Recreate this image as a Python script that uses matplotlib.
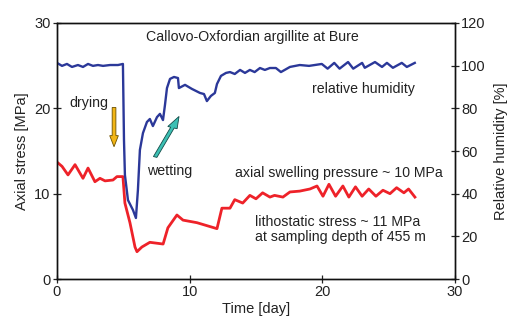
import matplotlib
matplotlib.use("Agg")
import matplotlib.pyplot as plt
from matplotlib.patches import FancyArrow

plt.rcParams['font.family'] = ['Liberation Sans', 'DejaVu Sans']

# relative humidity [%] vs time [day]
rh_t = [0, 0.38, 0.75, 1.13, 1.58, 1.96, 2.34, 2.71, 3.09, 3.47, 4.0, 4.6, 4.97,
        5.05, 5.12, 5.35, 5.73, 5.95, 6.1, 6.25, 6.48, 6.78, 7.0, 7.23, 7.54, 7.76,
        7.99, 8.14, 8.29, 8.52, 8.82, 9.12, 9.19, 9.65, 10.17, 10.78, 11.08, 11.3,
        11.6, 11.9, 12.06, 12.36, 12.74, 13.04, 13.4, 13.8, 14.17, 14.54, 14.9,
        15.3, 15.67, 16.05, 16.5, 16.88, 17.56, 18.3, 19.0, 19.96, 20.4, 20.9,
        21.3, 21.94, 22.33, 23.0, 23.2, 23.97, 24.5, 24.87, 25.32, 25.99, 26.37, 26.97]
rh_v = [101.3, 99.9, 100.8, 99.4, 100.3, 99.4, 100.8, 99.9, 100.3, 99.9, 100.3, 100.3, 100.8,
        65.2, 48.8, 37.0, 32.3, 28.6, 41.7, 60.5, 68.4, 73.6, 75.0, 71.7, 75.9, 77.4,
        74.5, 81.6, 89.5, 93.8, 94.7, 94.2, 89.5, 91.0, 89.1, 87.2, 86.7, 83.4,
        85.8, 87.2, 91.4, 95.2, 96.6, 97.0, 96.1, 98.0, 96.6, 98.0, 97.0,
        98.9, 98.0, 98.9, 98.9, 97.0, 99.4, 100.3, 99.9, 100.8, 98.6, 101.3,
        98.6, 101.7, 98.6, 101.3, 99.0, 101.7, 99.4, 101.3, 99.0, 101.3, 99.4, 101.3]

# axial swelling pressure [MPa] vs time [day]
p_t = [0, 0.38, 0.83, 1.36, 1.96, 2.34, 2.86, 3.24, 3.62, 4.22, 4.52, 4.97,
       5.12, 5.5, 5.88, 6.03, 6.4, 7.0, 7.5, 8.0, 8.36, 9.04, 9.5, 10.55, 12.06,
       12.43, 13.04, 13.4, 14.0, 14.54, 15.0, 15.5, 16.05, 16.4, 17.03, 17.56,
       18.3, 19.07, 19.6, 20.05, 20.5, 21.0, 21.55, 22.0, 22.5, 23.0, 23.5, 24.04,
       24.57, 25.1, 25.6, 26.15, 26.5, 26.98]
p_v = [13.7, 13.2, 12.2, 13.4, 11.8, 13.0, 11.4, 11.8, 11.5, 11.6, 12.0, 12.0,
       8.9, 6.6, 3.75, 3.2, 3.75, 4.3, 4.2, 4.1, 6.0, 7.5, 6.9, 6.6, 5.9,
       8.3, 8.3, 9.3, 8.9, 9.8, 9.4, 10.1, 9.6, 9.8, 9.6, 10.2,
       10.3, 10.55, 10.9, 9.7, 11.1, 9.7, 10.9, 9.6, 10.8, 9.7, 10.55, 9.7,
       10.4, 10.0, 10.7, 10.1, 10.55, 9.6]

blue = '#2b3899'
red = '#ee2229'

fig = plt.figure(figsize=(5.07, 3.18), dpi=100)
ax = fig.add_axes([0.1124, 0.1226, 0.7850, 0.8051])
ax2 = ax.twinx()

ax.plot(p_t, p_v, color=red, lw=2.0, solid_joinstyle='round')
ax2.plot(rh_t, rh_v, color=blue, lw=1.7, solid_joinstyle='round')

ax.set_xlim(0, 30)
ax.set_ylim(0, 30)
ax2.set_ylim(0, 120)
ax.set_xticks([0, 10, 20, 30])
ax.set_yticks([0, 10, 20, 30])
ax2.set_yticks([0, 20, 40, 60, 80, 100, 120])

fs = 10.5
fst = 10.2
tc = '#222222'
ax.tick_params(axis='both', direction='inout', length=6, width=0.9, labelsize=fs, pad=1.5, colors=tc)
ax2.tick_params(axis='y', direction='inout', length=6, width=0.9, labelsize=fs, pad=1.5, colors=tc)
for a in (ax, ax2):
    for s in a.spines.values():
        s.set_linewidth(1.0)
        s.set_color('#111111')

ax.set_xlabel('Time [day]', fontsize=fs, color=tc, labelpad=2)
ax.set_ylabel('Axial stress [MPa]', fontsize=fs, color=tc, labelpad=4)
ax2.set_ylabel('Relative humidity [%]', fontsize=fs, color=tc, labelpad=6)

ax.text(14.7, 28.35, 'Callovo-Oxfordian argillite at Bure', ha='center', va='center', fontsize=fst, color=tc)
ax.text(0.9, 20.6, 'drying', ha='left', va='center', fontsize=fst, color=tc)
ax.text(6.8, 12.7, 'wetting', ha='left', va='center', fontsize=fst, color=tc)
ax.text(27.0, 22.3, 'relative humidity', ha='right', va='center', fontsize=fst, color=tc)
ax.text(29.1, 12.4, 'axial swelling pressure ~ 10 MPa', ha='right', va='center', fontsize=fst, color=tc)
ax.text(14.9, 5.8, 'lithostatic stress ~ 11 MPa\nat sampling depth of 455 m', ha='left', va='center',
        fontsize=fst, color=tc, linespacing=1.12)

ax.add_patch(FancyArrow(4.3, 20.1, 0, -4.6, width=0.28, head_width=0.65, head_length=1.3,
                        length_includes_head=True, fc='#f2b515', ec='#6b5000', lw=0.6, zorder=5))
ax.add_patch(FancyArrow(7.4, 14.3, 1.8, 4.75, width=0.28, head_width=0.75, head_length=1.4,
                        length_includes_head=True, fc='#3cc0b4', ec='#124c48', lw=0.6, zorder=5))

fig.savefig('out.png', dpi=100)
